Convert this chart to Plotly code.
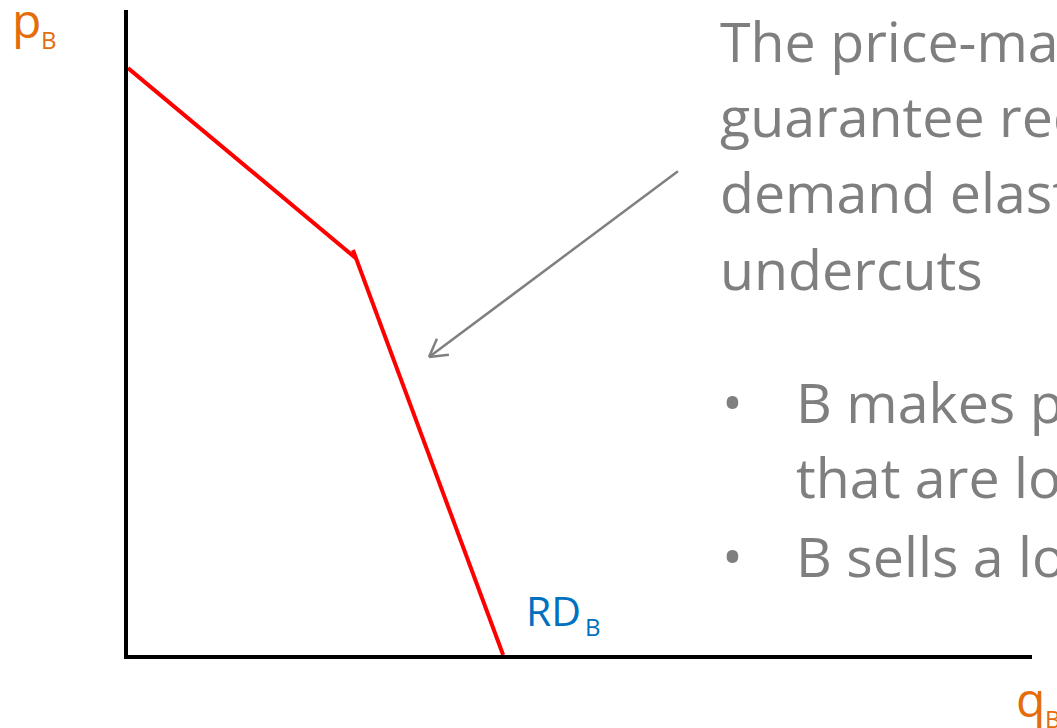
import math
import plotly.graph_objects as go

# Kinked residual demand curve RD_B (quantity q_B, price p_B)
upper_q = [0.0, 15.13]
upper_p = [9.1, 6.15]
lower_q = [14.93, 24.9]
lower_p = [6.28, 0.0]

Q_MAX, P_MAX = 60.0, 10.0

# Plot-area geometry (pixels)
FIG_W, FIG_H = 1057, 728
ML, MT, MR, MB = 128, 10, 25, 73
PW = FIG_W - ML - MR
PH = FIG_H - MT - MB

GREY = "#7F7F7F"
ORANGE = "#E46C0A"
BLUE = "#0070C0"
RED = "#FF0000"
FONT = "Open Sans"


def px_x(q):
    return ML + q / Q_MAX * PW


def px_y(p):
    return MT + PH - p / P_MAX * PH


def q_of(px):
    return (px - ML) / PW * Q_MAX


def p_of(py):
    return (MT + PH - py) / PH * P_MAX


def paper_x(px):
    return (px - ML) / PW


def paper_y(py):
    return (MT + PH - py) / PH


fig = go.Figure()
for qs, ps in ((upper_q, upper_p), (lower_q, lower_p)):
    fig.add_trace(go.Scatter(x=qs, y=ps, mode="lines",
                             line=dict(color=RED, width=4),
                             hoverinfo="skip", showlegend=False))

# Pointer arrow from the text to the steep part of the curve
tail_q, tail_p = 36.5, 7.50
tip_q, tip_p = 19.98, 4.62
shapes = [dict(type="line", xref="x", yref="y", x0=tail_q, y0=tail_p,
               x1=tip_q, y1=tip_p, line=dict(color="#808080", width=2.5))]
tx, ty = px_x(tip_q), px_y(tip_p)
dx, dy = px_x(tail_q) - tx, px_y(tail_p) - ty
n = math.hypot(dx, dy)
ux, uy = dx / n, dy / n
for ang in (math.radians(30), math.radians(-30)):
    bx = tx + 20 * (ux * math.cos(ang) - uy * math.sin(ang))
    by = ty + 20 * (ux * math.sin(ang) + uy * math.cos(ang))
    shapes.append(dict(type="line", xref="x", yref="y", x0=tip_q, y0=tip_p,
                       x1=q_of(bx), y1=p_of(by),
                       line=dict(color="#808080", width=2.5)))

annotations = []


def label(text, px, baseline, size, color):
    annotations.append(dict(
        text=text, xref="paper", yref="paper",
        x=paper_x(px), y=paper_y(baseline - 0.39 * size),
        xanchor="left", yanchor="middle", showarrow=False,
        font=dict(family=FONT, size=size, color=color)))


# Explanatory text
text_lines = [
    ("The price-match", 62),
    ("guarantee reduces", 137),
    ("demand elasticity: A never", 213),
    ("undercuts", 290),
]
for t, b in text_lines:
    label(t, 718, b, 55.5, GREY)

bullet_lines = [
    ("B makes profits", 423, True),
    ("that are lower", 498, False),
    ("B sells a lower quantity", 577, True),
]
for t, b, dot in bullet_lines:
    if dot:
        label("•", 720, b, 55.5, GREY)
    label(t, 794, b, 55.5, GREY)

# Axis and curve labels
label("p", 10, 38, 48, ORANGE)
label("B", 39, 49, 24, ORANGE)
label("q", 1014, 717, 48, ORANGE)
label("B", 1043, 728, 24, ORANGE)
label("RD", 524, 626, 41, BLUE)
label("B", 583, 636, 24, BLUE)

axis_common = dict(showgrid=False, zeroline=False, showticklabels=False,
                   ticks="", showline=True, linecolor="black", linewidth=4)
fig.update_layout(
    width=FIG_W, height=FIG_H,
    margin=dict(l=ML, r=MR, t=MT, b=MB),
    paper_bgcolor="white", plot_bgcolor="white",
    xaxis=dict(range=[0, Q_MAX], **axis_common),
    yaxis=dict(range=[0, P_MAX], **axis_common),
    shapes=shapes, annotations=annotations,
)
fig.write_html("out.html")
